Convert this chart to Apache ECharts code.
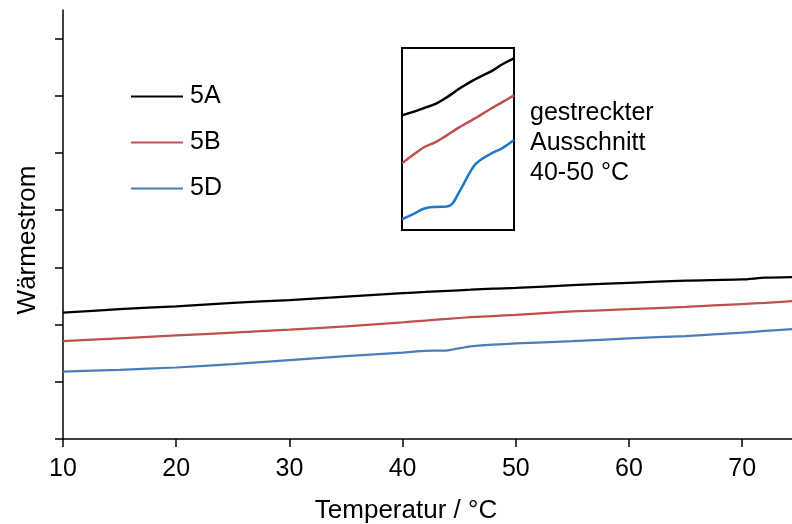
<!DOCTYPE html>
<html>
<head>
<meta charset="utf-8">
<script src="https://cdn.jsdelivr.net/npm/echarts@6/dist/echarts.min.js"></script>
<style>
  html, body { margin: 0; padding: 0; background: #fff; }
  #chart { width: 792px; height: 524px; }
</style>
</head>
<body>
<div id="chart"></div>
<script>
// ---- main chart data (Temperatur in °C, Wärmestrom in arbitrary units) ----
const tempMain = [10, 15, 20, 25, 30, 35, 40, 42, 44, 46, 48, 50, 55, 60, 65, 70, 72, 74.4];
const heat5A = [2.21, 2.27, 2.32, 2.38, 2.43, 2.49, 2.55, 2.57, 2.59, 2.61, 2.63, 2.64, 2.69, 2.73, 2.77, 2.79, 2.82, 2.83];
const heat5B = [1.71, 1.76, 1.81, 1.86, 1.91, 1.97, 2.04, 2.07, 2.10, 2.13, 2.15, 2.17, 2.23, 2.27, 2.31, 2.36, 2.38, 2.41];
const heat5D = [1.18, 1.21, 1.25, 1.31, 1.38, 1.45, 1.51, 1.54, 1.55, 1.62, 1.65, 1.67, 1.71, 1.76, 1.80, 1.86, 1.89, 1.92];

// ---- inset (stretched section 40-50 °C) ----
const tempInset = [40, 41, 42, 43, 44, 44.5, 45, 45.5, 46, 46.5, 47, 48, 49, 50];
const inset5A = [6.30, 6.49, 6.71, 6.93, 7.29, 7.50, 7.72, 7.91, 8.10, 8.27, 8.43, 8.73, 9.12, 9.43];
const inset5B = [3.66, 4.13, 4.56, 4.83, 5.20, 5.40, 5.60, 5.78, 5.95, 6.13, 6.31, 6.69, 7.04, 7.40];
const inset5D = [0.59, 0.87, 1.18, 1.27, 1.29, 1.45, 1.97, 2.52, 3.10, 3.58, 3.85, 4.21, 4.51, 4.94];

const seriesNames = ['5A', '5B', '5D'];
const xTicks = [10, 20, 30, 40, 50, 60, 70];
const yTicks = [0, 1, 2, 3, 4, 5, 6, 7];
const xLabel = 'Temperatur / °C';
const yLabel = 'Wärmestrom';
const noteText = 'gestreckter\nAusschnitt\n40-50 °C';

const colors = ['#000000', '#C0504D', '#4A7EBB'];
const insetColors = ['#000000', '#C0504D', '#1F78C8'];
const FONT = 'Liberation Sans, Arial, sans-serif';

const pairs = (xs, ys) => xs.map((x, i) => [x, ys[i]]);
const mainData = [heat5A, heat5B, heat5D];
const insetData = [inset5A, inset5B, inset5D];

const chart = echarts.init(document.getElementById('chart'), null, { renderer: 'canvas' });

const series = [];
mainData.forEach((d, i) => {
  series.push({
    name: seriesNames[i], type: 'line', xAxisIndex: 0, yAxisIndex: 0,
    data: pairs(tempMain, d), showSymbol: false, symbol: 'none', smooth: 0.2,
    lineStyle: { color: colors[i], width: 2.25 }, itemStyle: { color: colors[i] },
    animation: false, z: 3
  });
});
insetData.forEach((d, i) => {
  series.push({
    name: 'inset ' + seriesNames[i], type: 'line', xAxisIndex: 1, yAxisIndex: 1,
    data: pairs(tempInset, d), showSymbol: false, symbol: 'none', smooth: 0.4,
    lineStyle: { color: insetColors[i], width: 2.5 }, itemStyle: { color: insetColors[i] },
    animation: false, z: 5
  });
});

const option = {
  animation: false,
  backgroundColor: '#ffffff',
  textStyle: { fontFamily: FONT },
  grid: [
    { left: 63, top: 10, right: 0, bottom: 85, containLabel: false, outerBoundsMode: 'none' },
    { left: 402, top: 48, width: 112, height: 182, show: true, borderColor: '#000', borderWidth: 2, backgroundColor: '#fff', z: 4, outerBoundsMode: 'none' }
  ],
  legend: {
    data: seriesNames, orient: 'vertical', left: 126, top: 79,
    icon: 'rect', itemWidth: 52, itemHeight: 2, itemGap: 21,
    textStyle: { fontSize: 25, color: '#000', fontFamily: FONT, lineHeight: 25, padding: [0, 0, 0, 2] }
  },
  xAxis: [
    {
      type: 'value', gridIndex: 0, min: 10, max: 74.4, interval: 10,
      name: xLabel, nameLocation: 'middle', nameGap: 59,
      nameTextStyle: { fontSize: 26, color: '#000', fontFamily: FONT, padding: [0, 43, 0, 0] },
      axisLine: { show: true, lineStyle: { color: '#000', width: 1.5 } },
      axisTick: { show: true, inside: false, length: 8, customValues: xTicks, lineStyle: { color: '#000', width: 1.5 } },
      axisLabel: { show: true, customValues: xTicks, fontSize: 25, color: '#000', margin: 18, fontFamily: FONT },
      splitLine: { show: false }
    },
    {
      type: 'value', gridIndex: 1, min: 40, max: 50, show: false,
      splitLine: { show: false }
    }
  ],
  yAxis: [
    {
      type: 'value', gridIndex: 0, min: 0, max: 7.5, interval: 1,
      name: yLabel, nameLocation: 'middle', nameGap: 22,
      nameTextStyle: { fontSize: 26, color: '#000', fontFamily: FONT, padding: [0, 31, 0, 0] },
      axisLine: { show: true, lineStyle: { color: '#000', width: 1.5 } },
      axisTick: { show: true, inside: false, length: 8, customValues: yTicks, lineStyle: { color: '#000', width: 1.5 } },
      axisLabel: { show: false },
      splitLine: { show: false }
    },
    {
      type: 'value', gridIndex: 1, min: 0, max: 10, show: false,
      splitLine: { show: false }
    }
  ],
  graphic: [
    {
      type: 'text', left: 530, top: 98, z: 10,
      style: { text: noteText, fontSize: 25, lineHeight: 30, fill: '#000', fontFamily: FONT }
    }
  ],
  series: series
};

chart.setOption(option);
</script>
</body>
</html>
